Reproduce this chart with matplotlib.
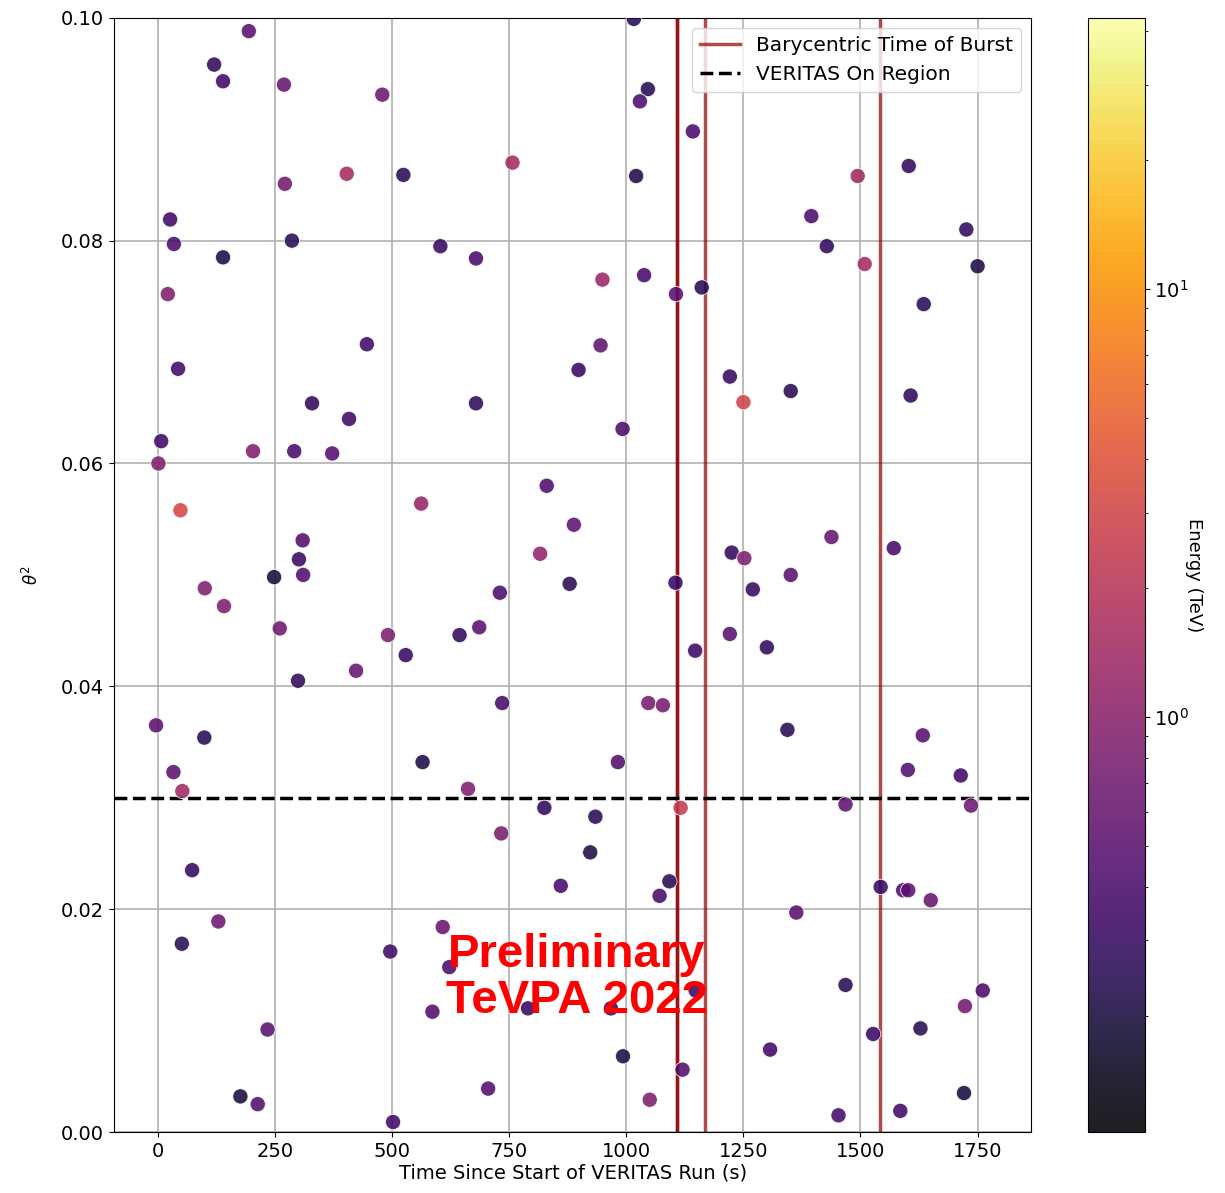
import matplotlib
matplotlib.use("Agg")
import matplotlib.pyplot as plt
from matplotlib.colors import LogNorm
import numpy as np

# time since start of run (s), theta^2 (deg^2), energy (TeV)
time_s = [
    194, 120, 139, 269, 479, 403, 524, 271, 26, 34, 286, 139, 21, 446, 43,
    1016, 1046, 1029, 1142, 757, 1021, 603, 679, 949, 1038, 1106, 1161, 945, 898,
    1603, 1494, 1395, 1428, 1509, 1726, 1750, 1635, 1221,
    329, 408, 7, 203, 291, 372, 1, 48, 562, 309, 301, 310, 248, 100, 141, 260,
    491, 529, 423, 299, -4, 99,
    679, 992, 830, 888, 816, 879, 1105, 730, 686, 644, 1147, 735, 1047, 1078,
    1351, 1250, 1607, 1438, 1571, 1225, 1252, 1351, 1270, 1221, 1300, 1344, 1633,
    33, 52, 73, 129, 51, 496, 234, 176, 213, 502,
    565, 982, 662, 825, 934, 1116, 733, 923, 860, 1092, 1071, 608, 622, 586, 790,
    967, 1148, 993, 1120, 705, 1050,
    1601, 1714, 1468, 1736, 1543, 1591, 1602, 1650, 1363, 1468, 1761, 1723, 1628,
    1527, 1307, 1721, 1585, 1453,
]
theta2 = [
    0.0988, 0.0958, 0.0943, 0.0940, 0.0931, 0.0860, 0.0859, 0.0851, 0.0819, 0.0797,
    0.0800, 0.0785, 0.0752, 0.0707, 0.0685,
    0.0999, 0.0936, 0.0925, 0.0898, 0.0870, 0.0858, 0.0795, 0.0784, 0.0765, 0.0769,
    0.0752, 0.0758, 0.0706, 0.0684,
    0.0867, 0.0858, 0.0822, 0.0795, 0.0779, 0.0810, 0.0777, 0.0743, 0.0678,
    0.0654, 0.0640, 0.0620, 0.0611, 0.0611, 0.0609, 0.0600, 0.0558, 0.0564, 0.0531,
    0.0514, 0.0500, 0.0498, 0.0488, 0.0472, 0.0452, 0.0446, 0.0428, 0.0414, 0.0405,
    0.0365, 0.0354,
    0.0654, 0.0631, 0.0580, 0.0545, 0.0519, 0.0492, 0.0493, 0.0484, 0.0453, 0.0446,
    0.0432, 0.0385, 0.0385, 0.0383,
    0.0665, 0.0655, 0.0661, 0.0534, 0.0524, 0.0520, 0.0515, 0.0500, 0.0487, 0.0447,
    0.0435, 0.0361, 0.0356,
    0.0323, 0.0306, 0.0235, 0.0189, 0.0169, 0.0162, 0.0092, 0.0032, 0.0025, 0.0009,
    0.0332, 0.0332, 0.0308, 0.0291, 0.0283, 0.0291, 0.0268, 0.0251, 0.0221, 0.0225,
    0.0212, 0.0184, 0.0148, 0.0108, 0.0111, 0.0111, 0.0127, 0.0068, 0.0056, 0.0039,
    0.0029,
    0.0325, 0.0320, 0.0294, 0.0293, 0.0220, 0.0217, 0.0217, 0.0208, 0.0197, 0.0132,
    0.0127, 0.0113, 0.0093, 0.0088, 0.0074, 0.0035, 0.0019, 0.0015,
]
energy_tev = [
    0.50, 0.28, 0.35, 0.60, 0.65, 1.5, 0.25, 0.70, 0.35, 0.40, 0.25, 0.22, 0.90, 0.35, 0.35,
    0.25, 0.25, 0.40, 0.38, 1.5, 0.22, 0.30, 0.38, 1.3, 0.38, 0.50, 0.25, 0.55, 0.30,
    0.28, 1.4, 0.42, 0.28, 1.5, 0.28, 0.22, 0.25, 0.30,
    0.28, 0.33, 0.35, 0.90, 0.38, 0.45, 0.90, 3.2, 1.2, 0.45, 0.30, 0.45, 0.20, 0.85,
    0.85, 0.65, 0.85, 0.30, 0.60, 0.28, 0.50, 0.25,
    0.27, 0.40, 0.42, 0.55, 1.1, 0.25, 0.30, 0.40, 0.50, 0.28, 0.33, 0.38, 0.75, 0.75,
    0.25, 3.0, 0.28, 0.60, 0.38, 0.28, 0.85, 0.50, 0.30, 0.50, 0.28, 0.25, 0.50,
    0.50, 1.4, 0.28, 0.65, 0.25, 0.35, 0.50, 0.20, 0.45, 0.35,
    0.22, 0.45, 0.90, 0.28, 0.25, 2.5, 0.80, 0.22, 0.38, 0.25, 0.38, 0.60, 0.40, 0.45,
    0.30, 0.30, 0.33, 0.22, 0.45, 0.45, 0.85,
    0.45, 0.35, 0.55, 0.65, 0.32, 0.45, 0.50, 0.60, 0.50, 0.25, 0.40, 0.70, 0.25,
    0.32, 0.35, 0.20, 0.35, 0.38,
]

burst_times = [1109, 1109, 1169, 1541]   # first one drawn twice (overlapping runs)
on_region_cut = 0.03
e_min, e_max = 0.107, 43.0

fig = plt.figure(figsize=(12.25, 11.93), dpi=100)
ax = fig.add_axes([0.093, 0.0511, 0.749, 0.934])
cax = fig.add_axes([0.888, 0.0511, 0.0465, 0.934])

sc = ax.scatter(time_s, theta2, c=energy_tev, cmap="inferno",
                norm=LogNorm(vmin=e_min, vmax=e_max), s=120, alpha=0.88,
                edgecolors="white", linewidths=0.6, zorder=3)

for i, t in enumerate(burst_times):
    ax.axvline(t, color="darkred", alpha=0.7, lw=2.5, zorder=2,
               label="Barycentric Time of Burst" if i == 0 else None)
ax.axhline(on_region_cut, color="black", ls="--", lw=2.5, zorder=2,
           label="VERITAS On Region")

ax.set_xlim(-94, 1865)
ax.set_ylim(0, 0.1)
ax.set_xticks([0, 250, 500, 750, 1000, 1250, 1500, 1750])
ax.set_yticks([0.0, 0.02, 0.04, 0.06, 0.08, 0.10])
ax.set_yticklabels(["0.00", "0.02", "0.04", "0.06", "0.08", "0.10"])
ax.tick_params(labelsize=14)
ax.grid(True, color="#b0b0b0", lw=1.2, zorder=0)
ax.set_axisbelow(True)
ax.set_xlabel("Time Since Start of VERITAS Run (s)", fontsize=14, labelpad=2)
ax.set_ylabel(r"$\theta^2$", fontsize=12, labelpad=14)
ax.legend(loc="upper right", fontsize=14.5)

# watermark, placed in data coords (centre of the two lines)
ax.text(894, 0.0138, "Preliminary\nTeVPA 2022", color="red", fontsize=34,
        fontweight="bold", family="Liberation Sans", ha="center", va="center",
        linespacing=1.05, zorder=4)

cb = fig.colorbar(sc, cax=cax)
cb.ax.tick_params(labelsize=14)
cb.set_label("Energy (TeV)", fontsize=13, rotation=270, labelpad=10)

fig.savefig("out.png", dpi=100)
